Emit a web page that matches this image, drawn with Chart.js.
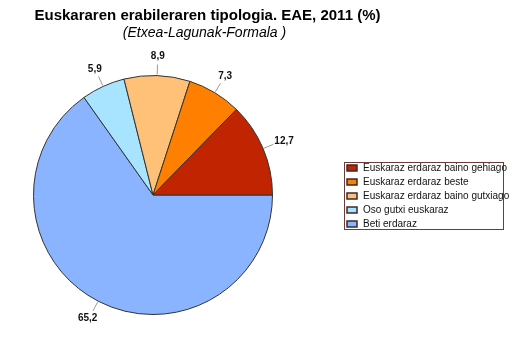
<!DOCTYPE html>
<html>
<head>
<meta charset="utf-8">
<script src="https://cdn.jsdelivr.net/npm/chart.js"></script>
<style>
  body { margin: 0; background: #fff; }
  #wrap { position: relative; width: 523px; height: 340px; }
  #title { position: absolute; left: 0; width: 415px; top: 6px; text-align: center;
    font: bold 15px "Liberation Sans", Arial, sans-serif; color: #000; }
  #subtitle { position: absolute; left: 0; width: 409px; top: 24px; text-align: center;
    font: italic 14px "Liberation Sans", Arial, sans-serif; color: #000; }
</style>
</head>
<body>
<div id="wrap">
  <div id="title">Euskararen erabileraren tipologia. EAE, 2011 (%)</div>
  <div id="subtitle">(Etxea-Lagunak-Formala )</div>
  <canvas id="pieChart" width="523" height="340"></canvas>
</div>
<script>
// legend order (as in the picture), the pie is drawn counter-clockwise from 3 o'clock
var labels = ['Euskaraz erdaraz baino gehiago', 'Euskaraz erdaraz beste', 'Euskaraz erdaraz baino gutxiago', 'Oso gutxi euskaraz', 'Beti erdaraz'];
var values = [12.7, 7.3, 8.9, 5.9, 65.2];
var colors = ['#C02400', '#FF8000', '#FFC078', '#A8E4FF', '#8AB4FF'];

// chart.js draws clockwise, so feed it reversed
var pieLabels = labels.slice().reverse();
var pieValues = values.slice().reverse();
var pieColors = colors.slice().reverse();

var sliceLabels = {
    id: 'sliceLabels',
    afterDatasetsDraw: function(chart) {
        var ctx = chart.ctx;
        var meta = chart.getDatasetMeta(0);
        ctx.save();
        ctx.font = 'bold 10px "Liberation Sans", Arial, sans-serif';
        ctx.fillStyle = '#111';
        ctx.textAlign = 'center';
        ctx.textBaseline = 'middle';
        meta.data.forEach(function(arc, i) {
            var mid = (arc.startAngle + arc.endAngle) / 2;
            var c = Math.cos(mid), s = Math.sin(mid);
            var r = arc.outerRadius;
            var x1 = arc.x + c * (r + 1), y1 = arc.y + s * (r + 1);
            var x2 = arc.x + c * (r + 11), y2 = arc.y + s * (r + 11);
            ctx.strokeStyle = '#999';
            ctx.lineWidth = 1;
            ctx.beginPath();
            ctx.moveTo(x1, y1);
            ctx.lineTo(x2, y2);
            ctx.stroke();
            var txt = pieValues[i].toFixed(1).replace('.', ',');
            var w = ctx.measureText(txt).width;
            ctx.fillText(txt, x2 + c * (w / 2 + 2), y2 + s * 8);
        });
        ctx.restore();
    }
};

var boxLegend = {
    id: 'boxLegend',
    afterDraw: function(chart) {
        var ctx = chart.ctx;
        ctx.save();
        ctx.strokeStyle = '#6E3A3A';
        ctx.lineWidth = 1;
        ctx.strokeRect(344.5, 162.5, 159, 67);
        ctx.font = '10px "Liberation Sans", Arial, sans-serif';
        ctx.textBaseline = 'middle';
        ctx.textAlign = 'left';
        labels.forEach(function(lab, i) {
            var y = 168 + i * 14;
            ctx.fillStyle = colors[i];
            ctx.fillRect(347, y - 3, 10, 6);
            ctx.strokeStyle = '#3A2A2A';
            ctx.lineWidth = 1.5;
            ctx.strokeRect(347, y - 3, 10, 6);
            ctx.fillStyle = '#111';
            ctx.fillText(lab, 363, y);
        });
        ctx.restore();
    }
};

var ctx = document.getElementById('pieChart').getContext('2d');
var myPieChart = new Chart(ctx, {
    type: 'pie',
    data: {
        labels: pieLabels,
        datasets: [{
            data: pieValues,
            backgroundColor: pieColors,
            borderColor: '#333',
            borderWidth: 1
        }]
    },
    options: {
        responsive: false,
        animation: false,
        rotation: 90,
        layout: { padding: { left: 33, top: 75, right: 250, bottom: 25 } },
        plugins: {
            legend: { display: false },
            tooltip: { enabled: false }
        }
    },
    plugins: [sliceLabels, boxLegend]
});
</script>
</body>
</html>
